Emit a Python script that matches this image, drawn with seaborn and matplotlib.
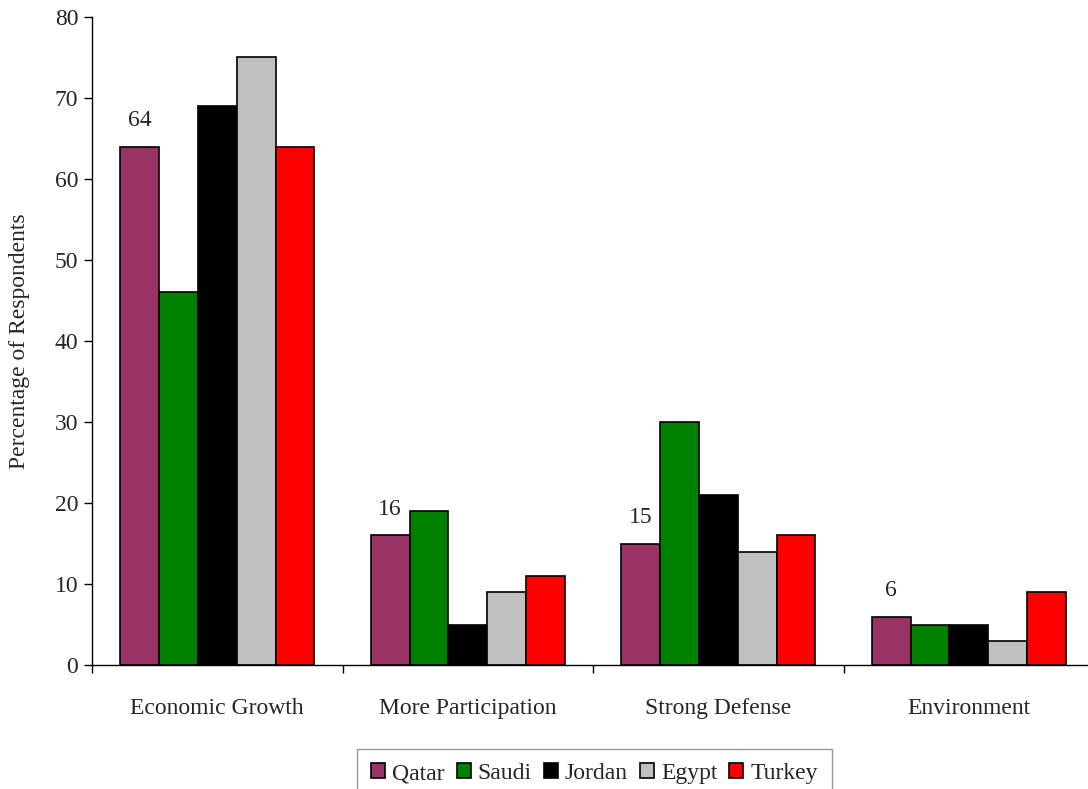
import matplotlib
matplotlib.use("Agg")
import matplotlib.pyplot as plt
import seaborn as sns
import pandas as pd

# chart values
categories = ["Economic Growth", "More Participation", "Strong Defense", "Environment"]
countries = ["Qatar", "Saudi", "Jordan", "Egypt", "Turkey"]
qatar = [64, 16, 15, 6]
saudi = [46, 19, 30, 5]
jordan = [69, 5, 21, 5]
egypt = [75, 9, 14, 3]
turkey = [64, 11, 16, 9]
colors = ["#993366", "#008000", "#000000", "#C0C0C0", "#FF0000"]

# long form table for seaborn
rows = []
for name, vals in zip(countries, [qatar, saudi, jordan, egypt, turkey]):
    for cat, v in zip(categories, vals):
        rows.append({"Issue": cat, "Country": name, "Percent": v})
df = pd.DataFrame(rows)

sns.set_style("white")
plt.rcParams["font.family"] = ["Liberation Serif", "DejaVu Serif"]

fig = plt.figure(figsize=(10.88, 7.89), dpi=100)
ax = fig.add_axes([0.0846, 0.157, 0.921, 0.8215])

sns.barplot(data=df, x="Issue", y="Percent", hue="Country", order=categories,
            hue_order=countries, palette=colors, width=0.775, edgecolor="black",
            linewidth=1.2, saturation=1, ax=ax)

# value labels on the Qatar bars only
ax.bar_label(ax.containers[0], labels=[str(v) for v in qatar], padding=11, fontsize=17)

ax.set_ylim(0, 80)
ax.set_yticks(range(0, 81, 10))
ax.set_xlim(-0.5, 3.5)
ax.set_xlabel("")
ax.set_ylabel("Percentage of Respondents", fontsize=17, labelpad=18)

for s in ["top", "right"]:
    ax.spines[s].set_visible(False)
for s in ["left", "bottom"]:
    ax.spines[s].set_color("black")
    ax.spines[s].set_linewidth(1.0)

ax.tick_params(axis="y", direction="out", length=6, width=1, color="black", labelsize=17, left=True, pad=4)
ax.tick_params(axis="x", which="major", length=0, labelsize=17, pad=24)
ax.set_xticks([-0.5, 0.5, 1.5, 2.5], minor=True)
ax.tick_params(axis="x", which="minor", direction="out", length=6, width=1, color="black", bottom=True)

ax.legend_.remove()
handles, labels = ax.get_legend_handles_labels()
leg = fig.legend(handles, labels, loc="upper center", bbox_to_anchor=(0.5464, 0.0655),
                 ncol=5, fontsize=17, frameon=True, fancybox=False, handlelength=0.6,
                 handleheight=0.6, handletextpad=0.3, columnspacing=0.5, borderpad=0.6)
leg.get_frame().set_edgecolor("#808080")
leg.get_frame().set_linewidth(1.0)

fig.savefig("out.png", dpi=100)
